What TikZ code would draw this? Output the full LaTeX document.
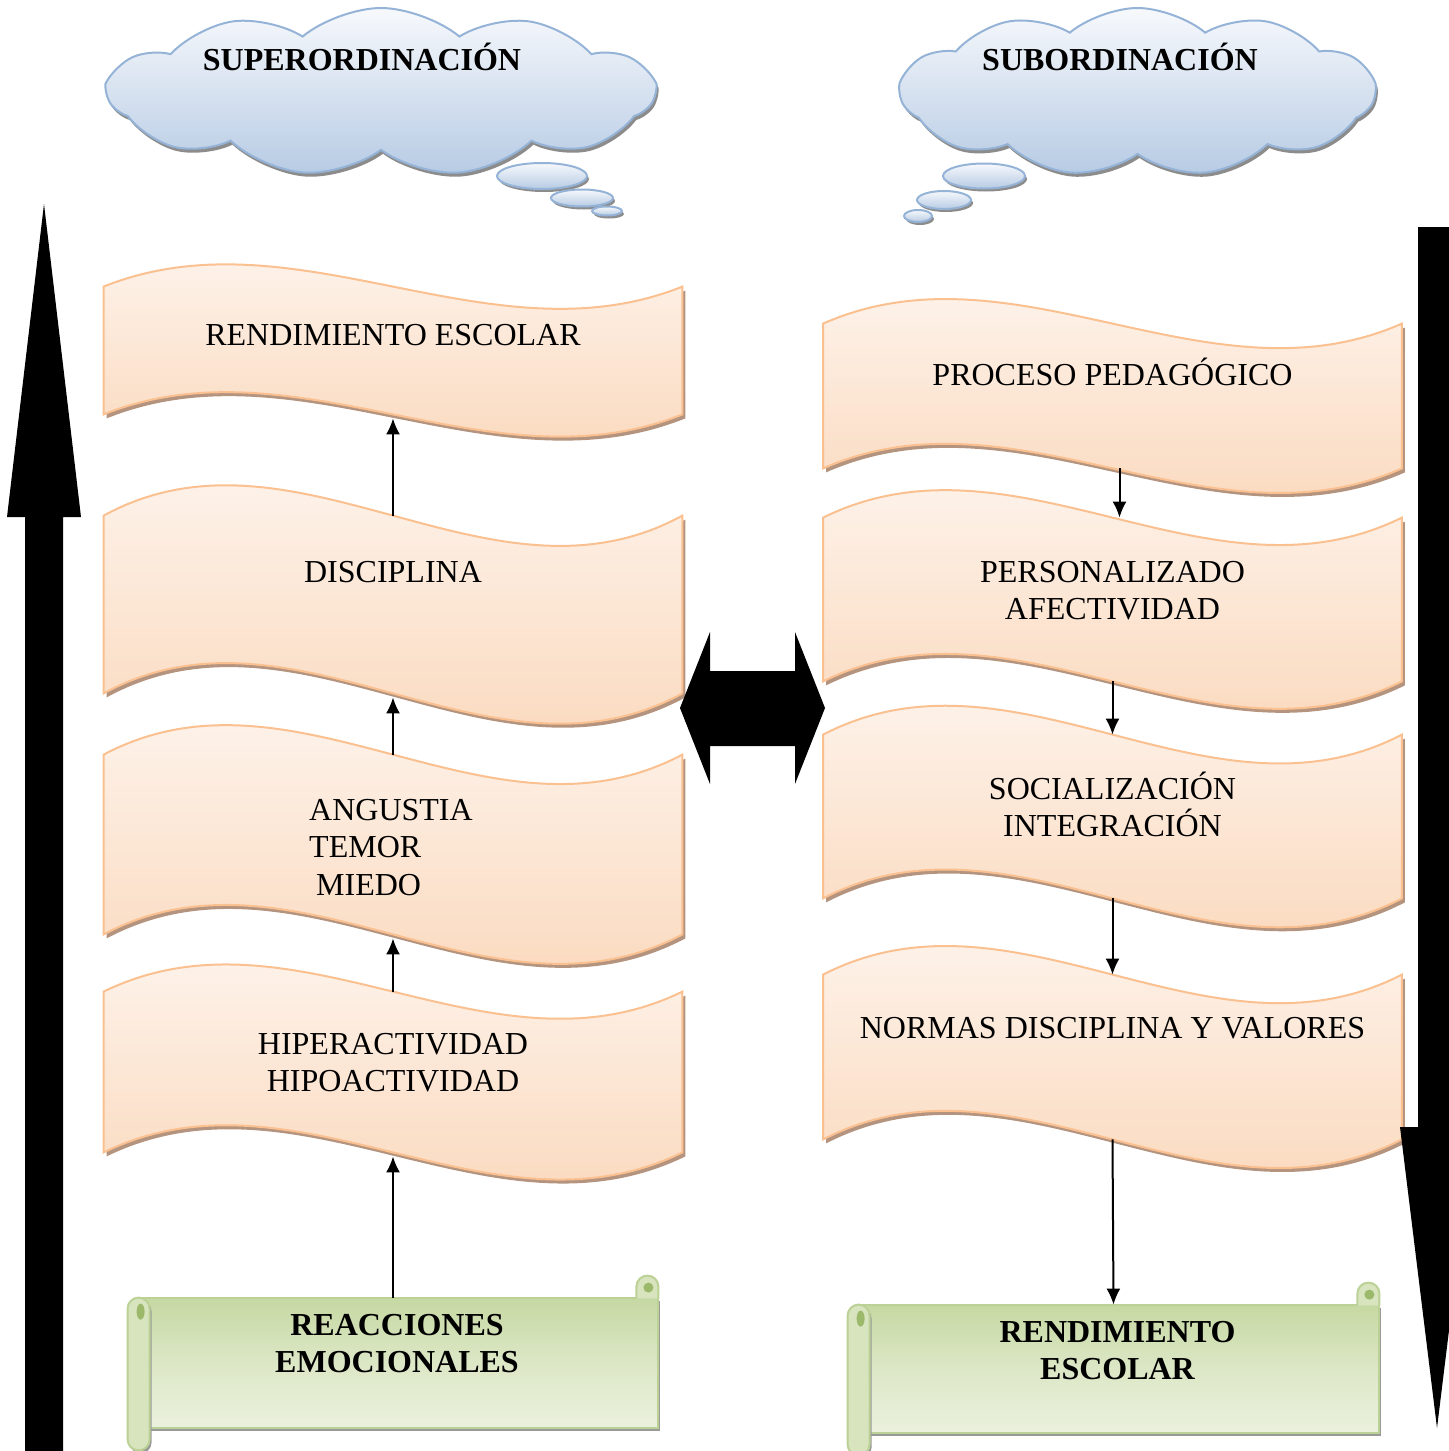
\documentclass[tikz,border=0pt]{standalone}
\usepackage{fontspec}
\setmainfont{Liberation Serif}
\usetikzlibrary{positioning, arrows.meta, calc, shapes.symbols, shadows}

\definecolor{cloudline}{HTML}{95B3D7}
\definecolor{cloudtop}{HTML}{F7F9FC}
\definecolor{cloudbot}{HTML}{B7CBE4}
\definecolor{waveline}{HTML}{FAC090}
\definecolor{wavetop}{HTML}{FEF8F4}
\definecolor{wavebot}{HTML}{FAD5B6}
\definecolor{waveshadow}{HTML}{B4947E}
\definecolor{scrollline}{HTML}{BBD196}
\definecolor{scrolllight}{HTML}{EBF1DE}
\definecolor{scrolldark}{HTML}{C6D8A2}
\definecolor{scrollcurl}{HTML}{9CB86A}

% wavy banner drawn round an empty node
\newcommand{\wavepath}[2]{%
  \path[wavefill] (#1.north west)
    .. controls ($(#1.north west)!0.333!(#1.north east)+(0,-#2)$)
            and ($(#1.north west)!0.667!(#1.north east)+(0,#2)$) .. (#1.north east)
    -- (#1.south east)
    .. controls ($(#1.south west)!0.667!(#1.south east)+(0,#2)$)
            and ($(#1.south west)!0.333!(#1.south east)+(0,-#2)$) .. (#1.south west)
    -- cycle;}

% scroll drawn round an empty node
\newcommand{\scrollpath}[1]{%
  \path[scrollfill] ($(#1.north west)+(11,0)$) rectangle (#1.south east);
  \path[rollfill] ($(#1.north east)+(-22,1)$) -- ($(#1.north east)+(-22,-11)$)
    arc[start angle=180, end angle=360, radius=11] -- ($(#1.north east)+(0,1)$);
  \fill[scrollcurl] ($(#1.north east)+(-10,-10)$) circle[radius=5];
  \path[rollfill, drop shadow={shadow xshift=1pt, shadow yshift=-1.5pt, fill=black!40, opacity=1}]
    ($(#1.north west)+(0,11)$) arc[start angle=180, end angle=360, radius=11]
    -- ($(#1.south west)+(22,11)$) arc[start angle=0, end angle=180, radius=11] -- cycle;
  \fill[scrollcurl] ($(#1.north west)+(13,14)$) ellipse[x radius=4, y radius=8];}

\begin{document}
\begin{tikzpicture}[
  x=0.5pt, y=-0.5pt,
  every node/.style={inner sep=0pt, font=\fontsize{16}{18.75}\selectfont},
  wavebox/.style={rectangle, minimum width=289pt},
  scrollbox/.style={rectangle},
  boxtext/.style={align=center},
  boldtext/.style={align=center, font=\fontsize{16}{18.75}\selectfont\bfseries},
  wavefill/.style={draw=waveline, line width=1pt, top color=wavetop, bottom color=wavebot,
    drop shadow={shadow xshift=1.5pt, shadow yshift=-2pt, fill=waveshadow, opacity=1}},
  scrollfill/.style={draw=scrollline, line width=1pt, shading angle=60,
    top color=scrolldark, bottom color=scrolllight, middle color=scrolllight!60!scrolldark,
    drop shadow={shadow xshift=1pt, shadow yshift=-1.5pt, fill=black!40, opacity=1}},
  rollfill/.style={draw=scrollline, line width=1pt, fill=scrolldark!70!white},
  cloudbox/.style={cloud, cloud puffs=11, cloud puff arc=80, cloud ignores aspect,
    draw=cloudline, line width=1pt, top color=cloudtop, bottom color=cloudbot,
    drop shadow={shadow xshift=1pt, shadow yshift=-2pt, fill=black!45, opacity=1}},
  cloudfill/.style={draw=cloudline, line width=1pt, top color=cloudtop, bottom color=cloudbot,
    drop shadow={shadow xshift=1pt, shadow yshift=-1.5pt, fill=black!45, opacity=1}},
  flow/.style={-{Latex[length=8pt,width=7pt]}, line width=1pt},
  flowup/.style={flow, shorten >=2pt}
]
\useasboundingbox (0,0) rectangle (1449,1451);
\clip (0,0) rectangle (1449,1451);

% Clouds
\node[cloudbox, minimum width=273pt, minimum height=84pt] (supercloud) at (381,92) {};
\path[cloudfill] (542,176) ellipse[x radius=45, y radius=13];
\path[cloudfill] (582,198) ellipse[x radius=31, y radius=8.5];
\path[cloudfill] (607,211) ellipse[x radius=15, y radius=4.5];
\node[boldtext] (supertitle) at (362,56.5) {SUPERORDINACIÓN};

\node[cloudbox, minimum width=237pt, minimum height=84pt] (subcloud) at (1137.5,92) {};
\path[cloudfill] (984,176) ellipse[x radius=41, y radius=12.5];
\path[cloudfill] (944,200) ellipse[x radius=27, y radius=9];
\path[cloudfill] (918,216) ellipse[x radius=14, y radius=6];
\node[boldtext] (subtitle) at (1120,56.5) {SUBORDINACIÓN};

% Left column
\node[wavebox, minimum height=63.5pt] (rend) at (393,350.5) {};
\wavepath{rend}{77}
\node[boxtext, below=18.5pt of rend.north] (rend-txt) {RENDIMIENTO ESCOLAR};

\node[wavebox, minimum height=88.5pt] (disc) at (393,604.5) {};
\wavepath{disc}{105}
\node[boxtext, below=22.5pt of disc.north] (disc-txt) {DISCIPLINA};

\node[wavebox, minimum height=89.5pt] (ang) at (393,844.5) {};
\wavepath{ang}{102}
\node[align=left, below=22pt of ang.north, xshift=-1pt] (ang-txt) {ANGUSTIA\\TEMOR\\\hspace*{3.5pt}MIEDO};

\node[wavebox, minimum height=80pt] (hiper) at (393,1072) {};
\wavepath{hiper}{94}
\node[boxtext, below=20.5pt of hiper.north] (hiper-txt) {HIPERACTIVIDAD\\HIPOACTIVIDAD};

\node[scrollbox, minimum width=265pt, minimum height=65pt] (reacc) at (393,1363) {};
\scrollpath{reacc}
\node[boldtext, below=8pt of reacc.north, xshift=2pt] (reacc-txt) {REACCIONES\\EMOCIONALES};

% Right column
\node[wavebox, minimum height=72pt] (proc) at (1112.5,396) {};
\wavepath{proc}{85}
\node[boxtext, below=17pt of proc.north] (proc-txt) {PROCESO PEDAGÓGICO};

\node[wavebox, minimum height=81.5pt] (pers) at (1112.5,599.5) {};
\wavepath{pers}{95}
\node[boxtext, below=21.5pt of pers.north] (pers-txt) {PERSONALIZADO\\AFECTIVIDAD};

\node[wavebox, minimum height=81.5pt] (soc) at (1112.5,816.5) {};
\wavepath{soc}{100}
\node[boxtext, below=18.5pt of soc.north] (soc-txt) {SOCIALIZACIÓN\\INTEGRACIÓN};

\node[wavebox, minimum height=82pt] (norm) at (1112.5,1057) {};
\wavepath{norm}{99}
\node[boxtext, below=21pt of norm.north] (norm-txt) {NORMAS DISCIPLINA Y VALORES};

\node[scrollbox, minimum width=265.5pt, minimum height=64pt] (rendesc) at (1113.5,1369) {};
\scrollpath{rendesc}
\node[boldtext, below=8pt of rendesc.north, xshift=2pt] (rendesc-txt) {RENDIMIENTO\\ESCOLAR};

% Connections
\draw[flowup] (reacc.north) -- (hiper.south);
\draw[flowup] (hiper.north) -- (ang.south);
\draw[flowup] (ang.north) -- (disc.south);
\draw[flowup] (disc.north) -- (rend.south);

\draw[flow] ([xshift=3.5pt]proc.south) -- ([xshift=3.5pt]pers.north);
\draw[flow] (pers.south) -- (soc.north);
\draw[flow] (soc.south) -- (norm.north);
\draw[flow] (norm.south) -- (rendesc.north);

% Big arrows
\fill (25,1460) -- (25,517) -- (7,517) -- (44,204) -- (81,517) -- (63,517) -- (63,1460) -- cycle;
\fill (1418,227) -- (1418,1127) -- (1400,1127) -- (1437,1428) -- (1474,1127) -- (1456,1127) -- (1456,227) -- cycle;
\fill (680,708) -- (710,632) -- (710,671) -- (795,671) -- (795,632) -- (825,708)
  -- (795,784) -- (795,746) -- (710,746) -- (710,784) -- cycle;

\end{tikzpicture}
\end{document}
